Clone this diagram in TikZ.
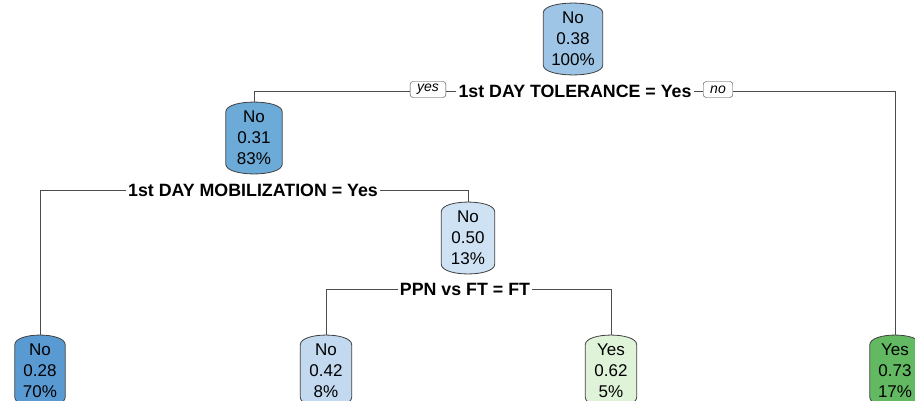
\documentclass[tikz,border=0pt]{standalone}
\usepackage{fontspec}
\setmainfont{Liberation Sans}
\usetikzlibrary{calc,backgrounds}

\definecolor{c38}{RGB}{158,197,229}
\definecolor{c31}{RGB}{108,170,215}
\definecolor{c28}{RGB}{90,154,211}
\definecolor{c50}{RGB}{207,226,244}
\definecolor{c42}{RGB}{194,217,239}
\definecolor{c62}{RGB}{223,243,216}
\definecolor{c73}{RGB}{98,185,98}

\tikzset{
  treenode/.style={align=center, inner sep=0pt, minimum height=72pt,
    font=\fontsize{17}{21}\selectfont},
  splitlabel/.style={fill=white, inner xsep=2pt, inner ysep=1pt,
    font=\bfseries\fontsize{17.8}{20}\selectfont},
  yesno/.style={draw=black!75, fill=white, rounded corners=3pt, inner xsep=7pt,
    inner ysep=1pt, minimum height=16pt, font=\itshape\fontsize{14}{14}\selectfont},
  branch/.style={draw=black!70, line width=0.9pt}
}

\newcommand{\treebox}[2]{\draw[draw=black!75, line width=0.8pt, fill=#2]
  ($(#1.north west)+(0,10)$) -- ($(#1.south west)+(0,-10)$)
  .. controls ($(#1.south west)+(0,3)$) and ($(#1.south east)+(0,3)$) .. ($(#1.south east)+(0,-10)$)
  -- ($(#1.north east)+(0,10)$)
  .. controls ($(#1.north east)+(0,-3)$) and ($(#1.north west)+(0,-3)$) .. cycle;}

\begin{document}
\begin{tikzpicture}[x=1pt,y=-1pt]
\useasboundingbox (0,0) rectangle (915,400);

% tree nodes
\node[treenode, minimum width=59pt] (n1) at (573,39) {No\\0.38\\100\%};
\node[treenode, minimum width=56pt] (n2) at (254,138) {No\\0.31\\83\%};
\node[treenode, minimum width=53pt] (n5) at (468,238) {No\\0.50\\13\%};
\node[treenode, minimum width=50pt] (n4) at (40,371) {No\\0.28\\70\%};
\node[treenode, minimum width=51pt] (n10) at (326,371) {No\\0.42\\8\%};
\node[treenode, minimum width=51pt] (n11) at (611,371) {Yes\\0.62\\5\%};
\node[treenode, minimum width=50pt] (n3) at (895,371) {Yes\\0.73\\17\%};

\begin{scope}[on background layer]
\foreach \n/\c in {n1/c38,n2/c31,n5/c50,n4/c28,n10/c42,n11/c62,n3/c73}
  {\treebox{\n}{\c}}
\end{scope}

% splits
\node[splitlabel] (s1) at (575,91.5) {1st DAY TOLERANCE = Yes};
\node[splitlabel] (s2) at (253,190.5) {1st DAY MOBILIZATION = Yes};
\node[splitlabel] (s3) at (465,289.5) {PPN vs FT = FT};

\begin{scope}[on background layer]
\draw[branch] (s1.west) -| (n2.north);
\draw[branch] (s1.east) -| (n3.north);
\draw[branch] (s2.west) -| (n4.north);
\draw[branch] (s2.east) -| (n5.north);
\draw[branch] (s3.west) -| (n10.north);
\draw[branch] (s3.east) -| (n11.north);
\end{scope}

\node[yesno] (yes) at (428,89.5) {yes};
\node[yesno] (no) at (718,89.5) {no};
\end{tikzpicture}
\end{document}
